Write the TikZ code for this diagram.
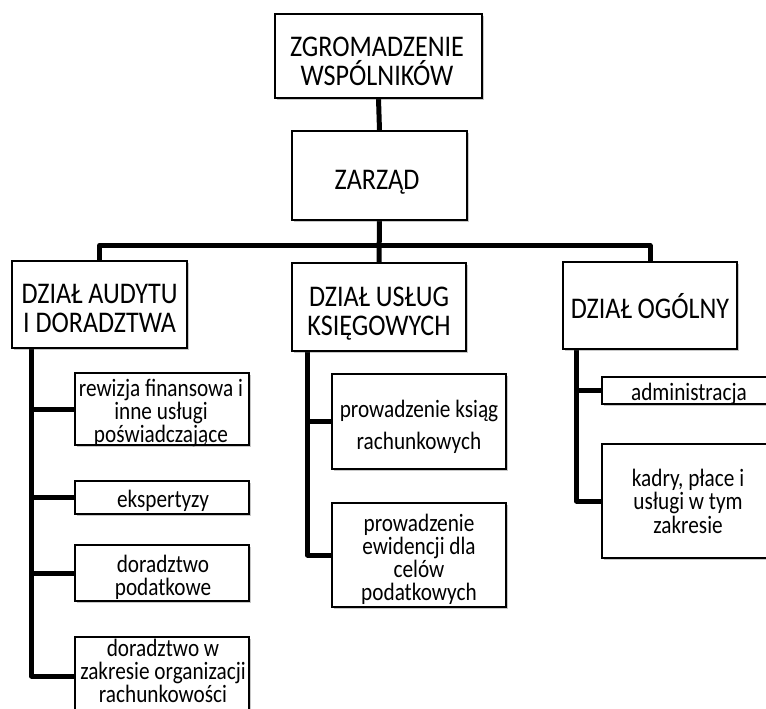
\documentclass[tikz,border=0pt]{standalone}
\usepackage{fontspec}
\setmainfont{Carlito}
\newfontfamily\bigfont[FakeStretch=0.87]{Carlito}
\newfontfamily\smallfont[FakeStretch=0.85]{Carlito}
\usetikzlibrary{shadows,backgrounds}
\begin{document}
\begin{tikzpicture}[x=1pt,y=-1pt,
  box/.style={draw=black, line width=1.2pt, fill=white, inner sep=0pt,
    drop shadow={shadow xshift=1.5pt, shadow yshift=-2pt, opacity=0.3, fill=black!70}},
  conn/.style={line width=5pt, line join=round},
  big/.style={font=\bigfont\fontsize{30}{29}\selectfont, align=center, inner sep=0pt, anchor=base},
  small/.style={font=\smallfont\fontsize{25}{23}\selectfont, align=center, inner sep=0pt, anchor=base}]
\useasboundingbox (0,0) rectangle (766,709);
\clip (0,0) rectangle (766,709);
% boxes
\node[box, minimum width=207, minimum height=84] (top) at (378.5,56) {};
\node[box, minimum width=175, minimum height=89] (zarz) at (379.5,175.5) {};
\node[box, minimum width=175, minimum height=87] (ld) at (99.5,304.5) {};
\node[box, minimum width=174, minimum height=88] (md) at (379,307) {};
\node[box, minimum width=174, minimum height=87] (rd) at (650,305.5) {};
\node[box, minimum width=174, minimum height=72] (s1) at (162,409) {};
\node[box, minimum width=174, minimum height=33] (s2) at (162,497.5) {};
\node[box, minimum width=174, minimum height=56] (s3) at (162,573) {};
\node[box, minimum width=174, minimum height=78] (s4) at (162,676) {};
\node[box, minimum width=174, minimum height=95] (ma) at (419,421.5) {};
\node[box, minimum width=174, minimum height=104] (mb) at (419,555) {};
\node[box, minimum width=174, minimum height=27] (ra) at (689,390.5) {};
\node[box, minimum width=174, minimum height=114] (rb) at (689,501) {};
% texts (anchored at the baseline of the last line)
\node[big] (ttop) at (377,85) {ZGROMADZENIE\\WSPÓLNIKÓW};
\node[big] (tzarz) at (377,189) {ZARZĄD};
\node[big] (tld) at (99.5,332) {DZIAŁ AUDYTU\\I DORADZTWA};
\node[big] (tmd) at (379,335) {DZIAŁ USŁUG\\KSIĘGOWYCH};
\node[big] (trd) at (650,318) {DZIAŁ OGÓLNY};
\node[small] (ts1) at (161,442) {rewizja finansowa i\\inne usługi\\poświadczające};
\node[small] (ts2) at (163,507) {ekspertyzy};
\node[small] (ts3) at (163,595) {doradztwo\\podatkowe};
\node[small] (ts4) at (163,702) {doradztwo w\\zakresie organizacji\\rachunkowości};
\node[small, font=\smallfont\fontsize{25}{32}\selectfont] (tma) at (419,449) {prowadzenie ksiąg\\rachunkowych};
\node[small] (tmb) at (419,600) {prowadzenie\\ewidencji dla\\celów\\podatkowych};
\node[small] (tra) at (689,400) {administracja};
\node[small, font=\smallfont\fontsize{25}{23.5}\selectfont] (trb) at (688,533) {kadry, płace i\\usługi w tym\\zakresie};
% connectors
\coordinate (lv) at ([xshift=20pt]ld.south west);
\coordinate (mv) at ([xshift=16pt]md.south west);
\coordinate (rv) at ([xshift=14pt]rd.south west);
\begin{pgfonlayer}{background}
\fill[white] (0,0) rectangle (766,709);
\draw[conn] (top.south) -- (zarz.north);
\draw[conn] (zarz.south) -- (md.north);
\draw[conn] (ld.north) -- ++(0,-15) -| (rd.north);
\draw[conn] (lv) |- (s4.west);
\draw[conn] (lv |- s1.west) -- (s1.west);
\draw[conn] (lv |- s2.west) -- (s2.west);
\draw[conn] (lv |- s3.west) -- (s3.west);
\draw[conn] (mv) |- (mb.west);
\draw[conn] (mv |- ma.west) -- (ma.west);
\draw[conn] (rv) |- (rb.west);
\draw[conn] (rv |- ra.west) -- (ra.west);
\end{pgfonlayer}
\end{tikzpicture}
\end{document}
